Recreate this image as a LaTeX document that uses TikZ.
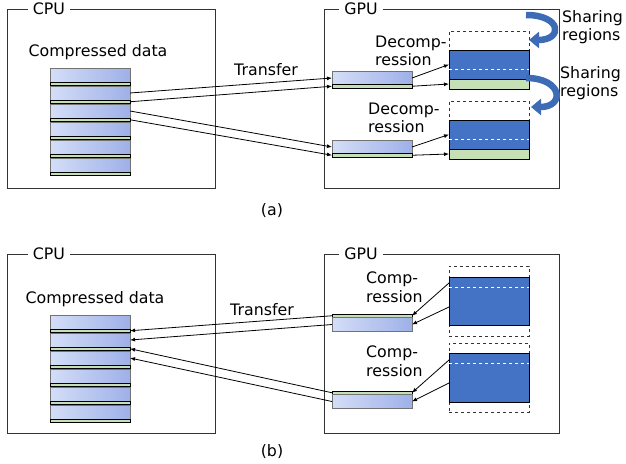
\documentclass[tikz,border=0pt]{standalone}
\usepackage{fontspec}
\setmainfont{DejaVu Sans}
\definecolor{chunklight}{RGB}{212,222,247}
\definecolor{chunkdark}{RGB}{158,176,232}
\definecolor{stripgreen}{RGB}{197,224,180}
\definecolor{regionblue}{RGB}{68,114,196}
\definecolor{sharearrow}{RGB}{61,107,181}
\usetikzlibrary{arrows.meta, positioning, calc}

\tikzset{
  unitbox/.style={draw=black!80, line width=0.9pt, inner sep=0pt, anchor=north west},
  unitlabel/.style={fill=white, inner sep=5pt},
  chunk/.style={draw=black!55, line width=0.6pt, left color=chunklight, right color=chunkdark,
    minimum width=80pt, minimum height=14pt, inner sep=0pt, outer sep=0pt, anchor=north west},
  strip/.style={draw=black, line width=0.8pt, fill=stripgreen, minimum width=80pt,
    minimum height=3.5pt, inner sep=0pt, outer sep=0pt, anchor=north west},
  region/.style={draw=black, line width=0.9pt, fill=regionblue, minimum width=80pt,
    inner sep=0pt, outer sep=0pt, anchor=north west},
  sparebox/.style={draw=black!80, dashed, line width=0.8pt, minimum width=80pt,
    inner sep=0pt, outer sep=0pt, anchor=north west},
  steplabel/.style={align=left, inner sep=0pt, anchor=west},
  arr/.style={-{Latex[length=5pt,width=4pt]}, line width=0.8pt},
  share/.style={line width=6.5pt, draw=sharearrow, -{Triangle[length=10pt,width=16pt]}}
}

\begin{document}
\begin{tikzpicture}[x=1pt, y=-1pt, font=\fontsize{15.8}{18.5}\selectfont]
\useasboundingbox (0,0) rectangle (626,463);

% ---------------- (a) decompression ----------------
\node[unitbox, minimum width=208pt, minimum height=179pt] (cpuA) at (7,9) {};
\node[unitbox, minimum width=235pt, minimum height=179pt] (gpuA) at (324,9) {};
\node[unitlabel] at ([xshift=42pt]cpuA.north west) {CPU};
\node[unitlabel] at ([xshift=37pt]gpuA.north west) {GPU};
\node (dataA) at (98,52) {Compressed data};

\foreach \i in {0,...,5} {
  \node[chunk] (ca\i) at (50,68+18*\i) {};
  \node[strip] (sa\i) at (50,82+18*\i) {};
}

% small blocks on the GPU
\node[chunk] (ga1) at (332,71) {};
\node[strip] (gs1) at (332,84.5) {};
\node[chunk] (ga2) at (332,140) {};
\node[strip] (gs2) at (332,153.5) {};

% decompressed regions
\node[sparebox, minimum height=19pt] (da1) at (449,31) {};
\node[region, minimum height=29pt] (ra1) at (449,50) {};
\node[strip, minimum height=10pt] (ta1) at (449,79) {};
\node[sparebox, minimum height=19pt] (da2) at (449,101) {};
\node[region, minimum height=29pt] (ra2) at (449,120) {};
\node[strip, minimum height=10pt] (ta2) at (449,149) {};
\draw[white, dashed, line width=0.8pt] ([yshift=-19pt]ra1.north west) -- ([yshift=-19pt]ra1.north east);
\draw[white, dashed, line width=0.8pt] ([yshift=-19pt]ra2.north west) -- ([yshift=-19pt]ra2.north east);

\node[steplabel] (decA1) at (375,51) {Decomp-\\ression};
\node[steplabel] (decA2) at (368,118) {Decomp-\\ression};
\node (transA) at (266,70) {Transfer};

\draw[arr] (ca1.east) -- (ga1.west);
\draw[arr] (sa1.east) -- (gs1.west);
\draw[arr] (ca2.east) -- (ga2.west);
\draw[arr] (sa2.east) -- (gs2.west);
\draw[arr] (ga1.east) -- (ra1.west);
\draw[arr] (gs1.east) -- (ta1.west);
\draw[arr] (ga2.east) -- (ra2.west);
\draw[arr] (gs2.east) -- (ta2.west);

% sharing arrows
\coordinate (sh1s) at (526,15);
\coordinate (sh1e) at (529,40);
\coordinate (sh2s) at (526,78);
\coordinate (sh2e) at (531,107);
\draw[share] (sh1s) .. controls (562,15) and (563,40) .. (sh1e);
\draw[share] (sh2s) .. controls (563,78) and (565,107) .. (sh2e);
\node[steplabel] (shareA1) at (562,27) {Sharing\\regions};
\node[steplabel] (shareA2) at (560,83) {Sharing\\regions};

\node (capA) at (272,211) {(a)};

% ---------------- (b) compression ----------------
\node[unitbox, minimum width=208pt, minimum height=179pt] (cpuB) at (7,254) {};
\node[unitbox, minimum width=235pt, minimum height=179pt] (gpuB) at (324,254) {};
\node[unitlabel] at ([xshift=42pt]cpuB.north west) {CPU};
\node[unitlabel] at ([xshift=37pt]gpuB.north west) {GPU};
\node (dataB) at (95,299) {Compressed data};

\foreach \i in {0,...,5} {
  \node[chunk] (cb\i) at (50,315+18*\i) {};
  \node[strip] (sb\i) at (50,329+18*\i) {};
}

\node[strip] (gt1) at (332,314) {};
\node[chunk] (gb1) at (332,317.5) {};
\node[strip] (gt2) at (332,391) {};
\node[chunk] (gb2) at (332,394.5) {};

\node[sparebox, minimum height=70pt] (db1) at (449,266) {};
\node[region, minimum height=48pt] (rb1) at (449,277) {};
\node[sparebox, minimum height=69pt] (db2) at (449,343) {};
\node[region, minimum height=49pt] (rb2) at (449,353) {};
\draw[white, dashed, line width=0.8pt] ([yshift=-10pt]rb1.north west) -- ([yshift=-10pt]rb1.north east);
\draw[white, dashed, line width=0.8pt] ([yshift=-10pt]rb2.north west) -- ([yshift=-10pt]rb2.north east);

\node[steplabel] (comB1) at (366,287) {Comp-\\ression};
\node[steplabel] (comB2) at (366,361) {Comp-\\ression};
\node (transB) at (262,310) {Transfer};

\draw[arr] (gt1.west) -- (sb0.east);
\draw[arr] (gb1.west) -- (cb1.east);
\draw[arr] (gt2.west) -- (sb1.east);
\draw[arr] (gb2.west) -- (cb2.east);
\draw[arr] ([yshift=-6pt]rb1.north west) -- (gt1.east);
\draw[arr] ([yshift=-30pt]rb1.north west) -- (gb1.east);
\draw[arr] ([yshift=-7pt]rb2.north west) -- (gt2.east);
\draw[arr] ([yshift=-30pt]rb2.north west) -- (gb2.east);

\node (capB) at (272,452) {(b)};
\end{tikzpicture}
\end{document}
